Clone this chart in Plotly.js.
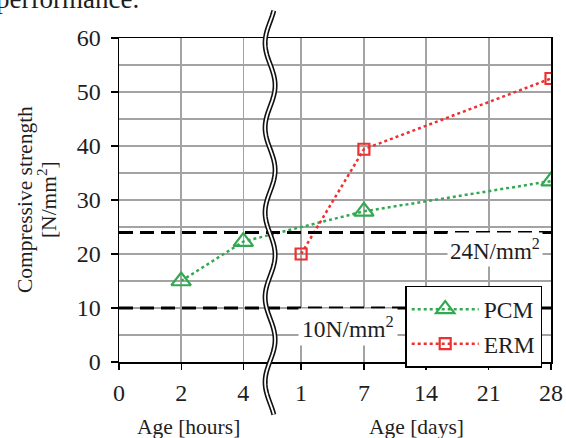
<!DOCTYPE html>
<html>
<head>
<meta charset="utf-8">
<script src="https://cdn.plot.ly/plotly-3.0.1.min.js"></script>
<style>html,body{margin:0;padding:0;background:#fff;}#chart{width:566px;height:438px;}</style>
</head>
<body>
<div id="chart"></div>
<script>
// ---- data ----
const ageKeys    = ['0h','2h','4h','1d','7d','14d','21d','28d'];
const tickLabels = ['0','2','4','1','7','14','21','28'];
const tickPos    = [0, 1, 2, 2.93, 3.94, 4.94, 5.95, 6.95];

const pcmAges   = ['2h','4h','7d','28d'];
const pcmValues = [15.0, 22.3, 27.9, 33.5];
const ermAges   = ['1d','7d','28d'];
const ermValues = [20.0, 39.4, 52.5];

const thresholds      = [24, 10];
const thresholdLabels = ['24N/mm<sup>2</sup>', '10N/mm<sup>2</sup>'];

// ---- layout helpers ----
const W = 566, H = 438;
const M = {l: 119, r: 15.3, t: 37.5, b: 75.7};
const PW = W - M.l - M.r, PH = H - M.t - M.b;
const px2x = px => (px - M.l) / PW;
const py2y = py => (H - M.b - py) / PH;
const posOf = k => tickPos[ageKeys.indexOf(k)];

const serif = 'Liberation Serif, Times New Roman, serif';
const txt = '#1e1e1e';
const green = '#33a852', red = '#ee3030';

// wavy axis-break path (decoration)
let brk = '';
for (let py = 10, i = 0; py <= 416; py += 3, i++) {
  const px = 270 + 5 * Math.sin(2 * Math.PI * (py - 63.75) / 85);
  brk += (i ? 'L' : 'M') + px2x(px).toFixed(5) + ',' + py2y(py).toFixed(5);
}

const traces = [
  {
    name: 'PCM', type: 'scatter', mode: 'lines+markers',
    x: pcmAges.map(posOf), y: pcmValues,
    line: {color: green, width: 2.5, dash: 'dot'},
    marker: {symbol: 'triangle-up-open', size: 17, color: green, line: {width: 2.2, color: green}},
    legendgroup: 'a'
  },
  {
    name: 'ERM', type: 'scatter', mode: 'lines+markers',
    x: ermAges.map(posOf), y: ermValues,
    line: {color: red, width: 2.5, dash: 'dot'},
    marker: {symbol: 'square-open', size: 11, color: red, line: {width: 2.2, color: red}},
    legendgroup: 'b'
  }
];

const shapes = thresholds.map(v => ({
  type: 'line', xref: 'paper', yref: 'y', x0: 0, x1: 1, y0: v, y1: v,
  line: {color: '#000', width: 3, dash: '14px,7px'}, layer: 'above'
}));
shapes.push({type: 'path', xref: 'paper', yref: 'paper', path: brk, line: {color: '#111', width: 5}, layer: 'above'});
shapes.push({type: 'path', xref: 'paper', yref: 'paper', path: brk, line: {color: '#fff', width: 1.8}, layer: 'above'});

const annotations = [
  {text: thresholdLabels[0], xref: 'paper', yref: 'paper', x: px2x(543), y: py2y(250), xanchor: 'right', yanchor: 'middle',
   showarrow: false, bgcolor: '#fff', borderpad: 2, font: {family: serif, size: 23, color: txt}},
  {text: thresholdLabels[1], xref: 'paper', yref: 'paper', x: px2x(347.5), y: py2y(327), xanchor: 'center', yanchor: 'middle',
   showarrow: false, bgcolor: '#fff', borderpad: 3, font: {family: serif, size: 23.5, color: txt}},
  {text: 'Age [hours]', xref: 'paper', yref: 'paper', x: px2x(188), y: py2y(427), xanchor: 'center', yanchor: 'middle',
   showarrow: false, font: {family: serif, size: 21.5, color: txt}},
  {text: 'Age [days]', xref: 'paper', yref: 'paper', x: px2x(416), y: py2y(427), xanchor: 'center', yanchor: 'middle',
   showarrow: false, font: {family: serif, size: 21.5, color: txt}},
  {text: 'Compressive strength', xref: 'paper', yref: 'paper', x: px2x(25), y: py2y(199), xanchor: 'center', yanchor: 'middle',
   textangle: -90, showarrow: false, font: {family: serif, size: 21.5, color: txt}},
  {text: '[N/mm<sup>2</sup>]', xref: 'paper', yref: 'paper', x: px2x(47), y: py2y(199), xanchor: 'center', yanchor: 'middle',
   textangle: -90, showarrow: false, font: {family: serif, size: 21.5, color: txt}},
  {text: 'performance.', xref: 'paper', yref: 'paper', x: px2x(-6), y: py2y(-1.5), xanchor: 'left', yanchor: 'middle',
   showarrow: false, font: {family: serif, size: 27, color: txt}}
];

const layout = {
  width: W, height: H,
  margin: M,
  paper_bgcolor: '#fff', plot_bgcolor: '#fff',
  showlegend: true,
  legend: {
    x: px2x(405), y: py2y(286), xanchor: 'left', yanchor: 'top',
    bgcolor: '#fff', bordercolor: '#000', borderwidth: 1.5,
    font: {family: serif, size: 23.5, color: txt},
    itemwidth: 67, traceorder: 'grouped', tracegroupgap: 1
  },
  xaxis: {
    type: 'linear', range: [0, tickPos[tickPos.length - 1]],
    tickmode: 'array', tickvals: tickPos, ticktext: tickLabels,
    showgrid: true, gridcolor: '#a3a3a3', gridwidth: 1.4,
    zeroline: false, showline: true, linecolor: '#000', linewidth: 1.5, mirror: true,
    ticks: 'outside', ticklen: 6, tickwidth: 1.3, tickcolor: '#000',
    tickfont: {family: serif, size: 24, color: txt}, ticklabelstandoff: 3
  },
  yaxis: {
    range: [0, 60], dtick: 10, tick0: 0,
    showgrid: true, gridcolor: '#a3a3a3', gridwidth: 1.4,
    minor: {dtick: 5, showgrid: true, gridcolor: '#a3a3a3', gridwidth: 1.4, ticks: ''},
    zeroline: false, showline: true, linecolor: '#000', linewidth: 1.5, mirror: true,
    ticks: 'outside', ticklen: 7, tickwidth: 1.3, tickcolor: '#000',
    tickfont: {family: serif, size: 24, color: txt}, ticklabelstandoff: 5
  },
  shapes: shapes,
  annotations: annotations
};

Plotly.newPlot('chart', traces, layout, {staticPlot: true, displayModeBar: false});
</script>
</body>
</html>
